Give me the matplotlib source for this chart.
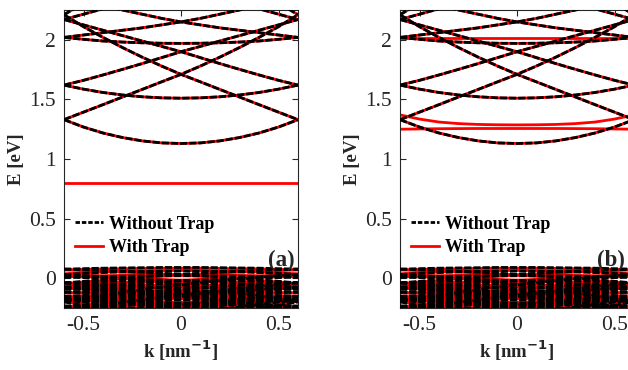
import numpy as np
import matplotlib
matplotlib.use('Agg')
import matplotlib.pyplot as plt
from matplotlib.lines import Line2D

plt.rcParams['font.family'] = ['Liberation Serif', 'DejaVu Serif']
plt.rcParams['axes.unicode_minus'] = False

# k grid (nm^-1) and folding period
K = [-0.6, -0.5, -0.4, -0.3, -0.2, -0.1, 0.0, 0.1, 0.2, 0.3, 0.4, 0.5, 0.6]
G = 1.2
Q_STEP = 0.1
REPLICAS = [-2, -1, 0, 1, 2]

# subband dispersions E(q), q = 0, 0.1, ..., 3.0 (eV), read/estimated from the figure
E1 = [1.13, 1.135, 1.152, 1.18, 1.218, 1.268, 1.33, 1.393, 1.456, 1.52, 1.583, 1.647, 1.71, 1.78,
      1.855, 1.935, 2.02, 2.11, 2.21, 2.31, 2.42, 2.53, 2.65, 2.77, 2.89, 3.0, 3.1, 3.2, 3.3, 3.4, 3.5]
E2 = [1.51, 1.513, 1.522, 1.537, 1.558, 1.586, 1.62, 1.66, 1.705, 1.752, 1.80, 1.85, 1.90, 1.945,
      1.99, 2.035, 2.08, 2.125, 2.17, 2.215, 2.26, 2.31, 2.36, 2.41, 2.46, 2.51, 2.56, 2.61, 2.66, 2.71, 2.76]
E3 = [1.97, 1.971, 1.975, 1.981, 1.99, 2.004, 2.02, 2.04, 2.06, 2.08, 2.10, 2.125, 2.15, 2.18,
      2.215, 2.25, 2.29, 2.33, 2.37, 2.41, 2.45, 2.50, 2.55, 2.60, 2.65, 2.70, 2.75, 2.80, 2.85, 2.90, 2.95]

V1 = [0.090, 0.090, 0.088, 0.086, 0.084, 0.080, 0.076, 0.070, 0.064, 0.058, 0.050, 0.042, 0.032, 0.022,
      0.012, 0.000, -0.012, -0.026, -0.040, -0.054, -0.070, -0.086, -0.104, -0.122, -0.140, -0.160,
      -0.180, -0.202, -0.224, -0.246, -0.270]
V2 = [0.060, 0.059, 0.057, 0.053, 0.047, 0.040, 0.031, 0.021, 0.009, -0.005, -0.020, -0.037, -0.055,
      -0.075, -0.097, -0.120, -0.145, -0.171, -0.199, -0.229, -0.260, -0.293, -0.327, -0.363, -0.401,
      -0.440, -0.481, -0.523, -0.567, -0.613, -0.660]
V3 = [-0.020, -0.021, -0.022, -0.025, -0.028, -0.033, -0.038, -0.045, -0.052, -0.061, -0.070, -0.081,
      -0.092, -0.105, -0.118, -0.133, -0.148, -0.165, -0.182, -0.201, -0.220, -0.241, -0.262, -0.285,
      -0.308, -0.333, -0.358, -0.385, -0.412, -0.441, -0.470]
V4 = [-0.080, -0.080, -0.081, -0.083, -0.085, -0.088, -0.091, -0.095, -0.099, -0.104, -0.110, -0.116,
      -0.123, -0.131, -0.139, -0.148, -0.157, -0.167, -0.177, -0.188, -0.200, -0.212, -0.225, -0.239,
      -0.253, -0.268, -0.283, -0.299, -0.315, -0.332, -0.350]
V5 = [-0.130, -0.131, -0.132, -0.135, -0.140, -0.145, -0.152, -0.159, -0.168, -0.179, -0.190, -0.203,
      -0.216, -0.231, -0.248, -0.265, -0.284, -0.303, -0.324, -0.347, -0.370, -0.395, -0.420, -0.447,
      -0.476, -0.505, -0.536, -0.567, -0.600, -0.635, -0.670]
V6 = [-0.180, -0.180, -0.181, -0.182, -0.183, -0.185, -0.187, -0.190, -0.193, -0.196, -0.200, -0.204,
      -0.209, -0.214, -0.219, -0.225, -0.231, -0.238, -0.245, -0.252, -0.260, -0.268, -0.277, -0.286,
      -0.295, -0.305, -0.315, -0.326, -0.337, -0.348, -0.360]
V7 = [-0.220, -0.220, -0.222, -0.224, -0.226, -0.230, -0.234, -0.240, -0.246, -0.252, -0.260, -0.268,
      -0.278, -0.288, -0.298, -0.310, -0.322, -0.336, -0.350, -0.364, -0.380, -0.396, -0.414, -0.432,
      -0.450, -0.470, -0.490, -0.512, -0.534, -0.556, -0.580]
V8 = [0.020, 0.020, 0.019, 0.017, 0.015, 0.013, 0.009, 0.005, 0.001, -0.004, -0.010, -0.016, -0.023,
      -0.031, -0.039, -0.048, -0.057, -0.067, -0.077, -0.088, -0.100, -0.112, -0.125, -0.139, -0.153,
      -0.168, -0.183, -0.199, -0.215, -0.232, -0.250]
V9 = [-0.050, -0.051, -0.053, -0.056, -0.061, -0.068, -0.075, -0.084, -0.095, -0.107, -0.120, -0.135,
      -0.151, -0.168, -0.187, -0.208, -0.229, -0.252, -0.277, -0.303, -0.330, -0.359, -0.389, -0.420,
      -0.453, -0.488, -0.523, -0.560, -0.599, -0.639, -0.680]
V10 = [-0.160, -0.161, -0.162, -0.165, -0.168, -0.173, -0.178, -0.185, -0.192, -0.201, -0.210, -0.221,
       -0.232, -0.245, -0.258, -0.273, -0.288, -0.305, -0.322, -0.341, -0.360, -0.381, -0.402, -0.425,
       -0.448, -0.473, -0.498, -0.525, -0.552, -0.581, -0.610]
V11 = [-0.110, -0.110, -0.111, -0.112, -0.113, -0.115, -0.117, -0.120, -0.123, -0.126, -0.130, -0.134,
       -0.139, -0.144, -0.149, -0.155, -0.161, -0.168, -0.175, -0.182, -0.190, -0.198, -0.207, -0.216,
       -0.225, -0.235, -0.245, -0.256, -0.267, -0.278, -0.290]
VALENCE = [V1, V2, V3, V4, V5, V6, V7, V8, V9, V10, V11]
VALENCE_TRAP_SHIFT = [-0.006, 0.005, -0.008, 0.006, -0.005, 0.007, -0.006, 0.006, -0.007, 0.005, -0.006]

# trap-induced bands (values at K)
TRAP_A = [0.795] * 13
TRAP_B_LOW = [1.25, 1.252, 1.254, 1.255, 1.256, 1.256, 1.256, 1.256, 1.256, 1.255, 1.254, 1.252, 1.25]
TRAP_B_UP = [1.37, 1.335, 1.31, 1.297, 1.29, 1.287, 1.286, 1.287, 1.29, 1.297, 1.31, 1.335, 1.37]
TRAP_B_2 = [2.012] * 13


def folded(table, shift=0.0):
    out = []
    for m in REPLICAS:
        idx = [int(round(abs(k + m * G) / Q_STEP)) for k in K]
        out.append([table[i] + shift for i in idx])
    return out


W = 628 / 100
H = 370 / 100
fig = plt.figure(figsize=(W, H), dpi=100)

axcol = '#262626'
dash = dict(color='black', lw=2.0, dashes=(2.6, 0.7), zorder=3)
red = dict(color='red', lw=2.0, zorder=2)

positions = [[64 / 628, 62 / 370, 234 / 628, 298 / 370],
             [400 / 628, 62 / 370, 234 / 628, 298 / 370]]
tag_x = [0.987, 0.962]

for p, (pos, tag) in enumerate(zip(positions, ['(a)', '(b)'])):
    ax = fig.add_axes(pos)
    black_lines = []
    for tb in [E1, E2, E3]:
        black_lines += folded(tb)
    for tb in VALENCE:
        black_lines += folded(tb)
    red_lines = []
    for tb in [E1, E2, E3]:
        red_lines += folded(tb)
    for tb, s in zip(VALENCE, VALENCE_TRAP_SHIFT):
        red_lines += folded(tb, s)
    if p == 0:
        red_lines.append(TRAP_A)
    else:
        red_lines += [TRAP_B_LOW, TRAP_B_UP, TRAP_B_2]

    for ln in red_lines:
        ax.plot(K, ln, **red)
    for ln in black_lines:
        ax.plot(K, ln, **dash)

    ax.set_xlim(-0.6, 0.6)
    ax.set_ylim(-0.25, 2.25)
    ax.set_xticks([-0.5, 0, 0.5])
    ax.set_xticklabels(['-0.5', '0', '0.5'])
    ax.set_yticks([0, 0.5, 1, 1.5, 2])
    ax.set_yticklabels(['0', '0.5', '1', '1.5', '2'])
    ax.tick_params(direction='in', top=True, right=True, length=4, width=0.8,
                   colors=axcol, labelsize=15.5, pad=6)
    for sp in ax.spines.values():
        sp.set_color(axcol)
        sp.set_linewidth(0.8)
    ax.set_xlabel('k [nm$^{\\mathbf{-1}}$]', fontsize=13.5, fontweight='bold', color=axcol, labelpad=2)
    ax.set_ylabel('E [eV]', fontsize=13.5, fontweight='bold', color=axcol, labelpad=3)
    ax.text(tag_x[p], 0.16, tag, transform=ax.transAxes, ha='right', va='center',
            fontsize=16.5, fontweight='bold', color=axcol, zorder=5)

    handles = [Line2D([], [], color='black', lw=2.0, dashes=(1.6, 0.7)),
               Line2D([], [], color='red', lw=2.0)]
    ax.legend(handles, ['Without Trap', 'With Trap'], loc='upper left',
              bbox_to_anchor=(0.045, 0.31), frameon=False, borderpad=0, borderaxespad=0,
              handlelength=1.6, handletextpad=0.3, labelspacing=0.37,
              prop={'size': 13, 'weight': 'bold'})

fig.savefig('out.png', dpi=100)
